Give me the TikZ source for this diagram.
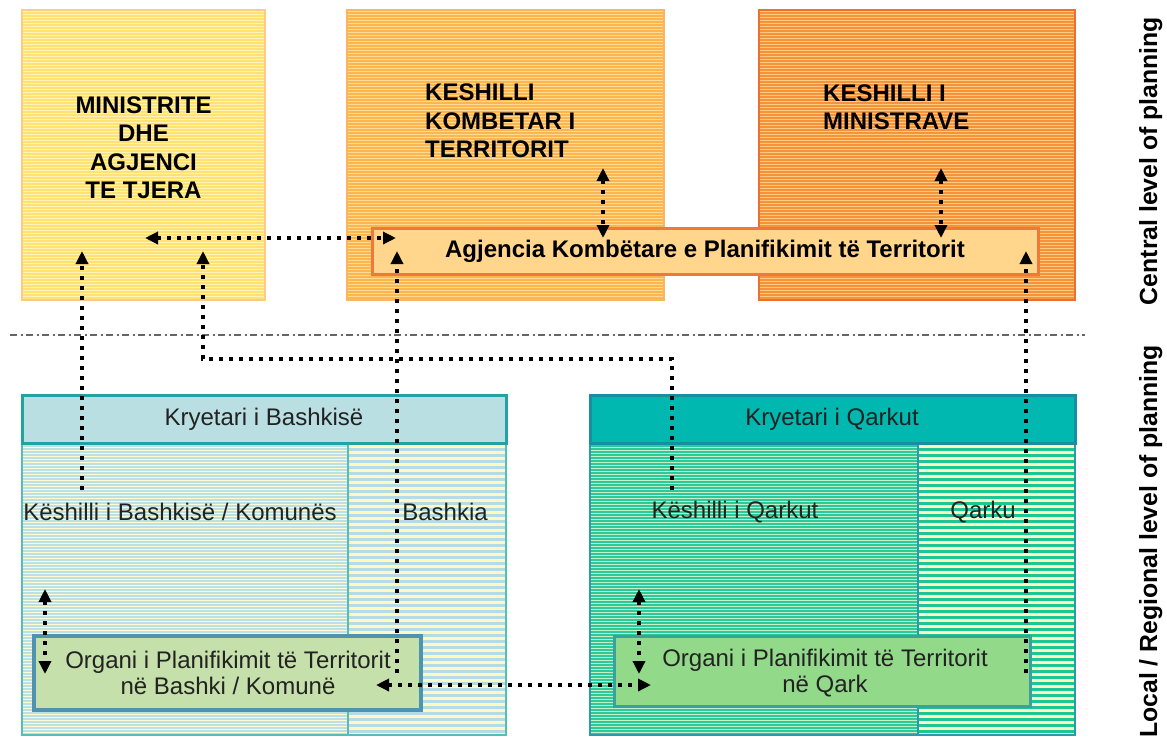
\documentclass[tikz,border=0pt]{standalone}
\usepackage{fontspec}
\setmainfont{Liberation Sans}
\usetikzlibrary{arrows.meta}
\definecolor{minA}{HTML}{FFF3B8}\definecolor{minB}{HTML}{FFE272}\definecolor{minE}{HTML}{FFC98A}
\definecolor{kktA}{HTML}{FFDB95}\definecolor{kktB}{HTML}{FDB54E}\definecolor{kktE}{HTML}{F9B562}
\definecolor{kmA}{HTML}{FFCB80}\definecolor{kmB}{HTML}{F6923A}\definecolor{kmE}{HTML}{EE6F2E}
\definecolor{agF}{HTML}{FFD68C}\definecolor{agE}{HTML}{F07838}
\definecolor{blA}{HTML}{FFFBD2}\definecolor{blB}{HTML}{BDE0E4}
\definecolor{brA}{HTML}{FFF8C0}\definecolor{brB}{HTML}{B5DCE6}
\definecolor{blH}{HTML}{BADFE2}\definecolor{blHE}{HTML}{22A3A3}\definecolor{blE}{HTML}{55BDBA}
\definecolor{glA}{HTML}{C4F0C8}\definecolor{glB}{HTML}{2DC99A}
\definecolor{grA}{HTML}{FFF6C4}\definecolor{grB}{HTML}{1EC696}
\definecolor{grH}{HTML}{00B8B0}\definecolor{grHE}{HTML}{168FA0}\definecolor{grE}{HTML}{2C9AAA}
\definecolor{orgLF}{HTML}{C5E0AA}\definecolor{orgLE}{HTML}{4F93AE}
\definecolor{orgRF}{HTML}{92D98A}\definecolor{orgRE}{HTML}{3AA0A0}
\definecolor{textgray}{HTML}{222222}
\newcommand{\stripefill}[7]{%
  \begin{scope}
  \clip (#1,#2) rectangle (#3,#4);
  \fill[#5] (#1,#2) rectangle (#3,#4);
  \pgfmathsetmacro\ysecond{#2+#7}
  \foreach \yy in {#2,\ysecond,...,#4} \draw[#6, line width=#7*0.5pt] (#1,\yy) -- (#3,\yy);
  \end{scope}}
\tikzset{
 conn/.style={line width=4pt, dash pattern=on 4pt off 6pt, black},
 both/.style={conn, {Triangle[length=13pt,width=12pt]}-{Triangle[length=13pt,width=12pt]}},
 single/.style={conn, -{Triangle[length=13pt,width=12pt]}},
 toptitle/.style={font=\bfseries\fontsize{24}{28.5}\selectfont, inner sep=0pt},
 lowtext/.style={font=\fontsize{24}{26.5}\selectfont, text=textgray, inner sep=0pt, align=center},
 sidetext/.style={font=\bfseries\fontsize{24.8}{28}\selectfont, inner sep=0pt, rotate=90},
}
\begin{document}
\begin{tikzpicture}[x=1pt,y=-1pt]
\useasboundingbox (0,0) rectangle (1167,740);
% top boxes
\stripefill{22}{10}{265}{300}{minA}{minB}{3}
\draw[minE, line width=2.5pt] (22,10) rectangle (265,300);
\stripefill{347}{10}{664}{300}{kktA}{kktB}{3}
\draw[kktE, line width=2.5pt] (347,10) rectangle (664,300);
\stripefill{759}{10}{1075}{300}{kmA}{kmB}{3}
\draw[kmE, line width=2.5pt] (759,10) rectangle (1075,300);
\draw[agE, fill=agF, line width=3pt] (372,228) rectangle (1038,274);
% separator
\draw[gray!80!black, line width=1.3pt, dash pattern=on 7pt off 3.5pt on 2pt off 3.5pt] (10,335) -- (1085,335);
% bottom left
\stripefill{22}{443}{348}{735}{blA}{blB}{3}
\stripefill{348}{443}{506}{735}{brA}{brB}{6}
\draw[blE, line width=2pt] (348,443) -- (348,735);
\draw[blE, line width=2.5pt] (22,395) rectangle (506,735);
\draw[blHE, fill=blH, line width=3pt] (22,395) rectangle (506,443);
\draw[orgLE, fill=orgLF, line width=4pt] (34,636) rectangle (421,710);
% bottom right
\stripefill{590}{443}{918}{735}{glA}{glB}{3}
\stripefill{918}{443}{1075}{735}{grA}{grB}{6}
\draw[grE, line width=2pt] (918,443) -- (918,735);
\draw[grE, line width=2.5pt] (590,395) rectangle (1075,735);
\draw[grHE, fill=grH, line width=3pt] (590,395) rectangle (1075,443);
\draw[orgRE, fill=orgRF, line width=3pt] (614,636) rectangle (1030,706);
% texts
\node[toptitle, align=center] (min) at (143.5,147.5) {MINISTRITE\\DHE\\AGJENCI\\TE TJERA};
\node[toptitle, align=left, anchor=west] (kkt) at (425,121) {KESHILLI\\KOMBETAR I\\TERRITORIT};
\node[toptitle, align=left, anchor=west] (km) at (823,107) {KESHILLI I\\MINISTRAVE};
\node[toptitle] (ag) at (705,251) {Agjencia Kombëtare e Planifikimit të Territorit};
\node[lowtext] (kb) at (264,419) {Kryetari i Bashkisë};
\node[lowtext] (kq) at (832,419) {Kryetari i Qarkut};
\node[lowtext] (ksb) at (180,512) {Këshilli i Bashkisë / Komunës};
\node[lowtext] (bsh) at (445,512) {Bashkia};
\node[lowtext] (ksq) at (735,512) {Këshilli i Qarkut};
\node[lowtext] (qrk) at (983,512) {Qarku};
\node[lowtext] (opb) at (228,673) {Organi i Planifikimit të Territorit\\në Bashki / Komunë};
\node[lowtext] (opq) at (825,673) {Organi i Planifikimit të Territorit\\në Qark};
\node[sidetext, anchor=base] (central) at (1157,161) {Central level of planning};
\node[sidetext, anchor=base west] (local) at (1157,738) {Local / Regional level of planning};
% connector end points
\coordinate (minR) at (145,238); \coordinate (agL) at (396,238);
\coordinate (kktT) at (603,168); \coordinate (kktD) at (603,238);
\coordinate (kmT) at (941,168); \coordinate (kmD) at (941,238);
\coordinate (bashTop) at (397,251); \coordinate (bashBot) at (397,673);
\coordinate (kbTop) at (82,251); \coordinate (kbBot) at (82,490);
\coordinate (kqBot) at (672,490); \coordinate (kqTop) at (203,251);
\coordinate (qTop) at (1026,251); \coordinate (qBot) at (1026,673);
\coordinate (orgL) at (376,685); \coordinate (orgR) at (651,685);
\coordinate (lvT) at (45,589); \coordinate (lvD) at (45,674);
\coordinate (rvT) at (639,589); \coordinate (rvD) at (639,674);
% connectors
\draw[both] (minR) -- (agL);
\draw[both] (kktT) -- (kktD);
\draw[both] (kmT) -- (kmD);
\draw[single] (bashBot) -- (bashTop);
\draw[single] (kbBot) -- (kbTop);
\draw[single] (kqBot) -- (672,359) -- (203,359) -- (kqTop);
\draw[single] (qBot) -- (qTop);
\draw[both] (orgL) -- (orgR);
\draw[both] (lvT) -- (lvD);
\draw[both] (rvT) -- (rvD);
\end{tikzpicture}
\end{document}
